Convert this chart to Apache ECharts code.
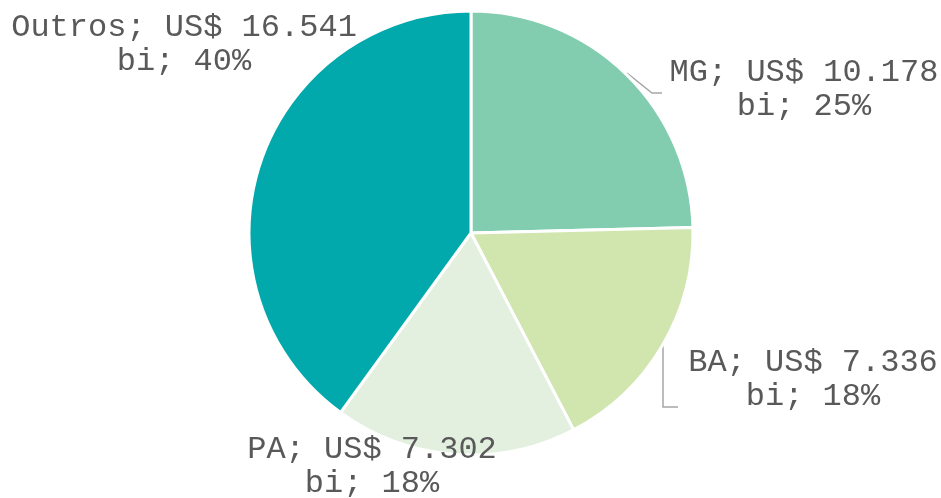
<!DOCTYPE html>
<html>
<head>
<meta charset="utf-8">
<script src="https://cdn.jsdelivr.net/npm/echarts@6/dist/echarts.min.js"></script>
<style>
  html, body { margin: 0; padding: 0; background: #fff; }
  #chart { width: 941px; height: 498px; }
</style>
</head>
<body>
<div id="chart"></div>
<script>
// estados e valores (US$ bi)
const states = ['MG', 'BA', 'PA', 'Outros'];
const values = [10.178, 7.336, 7.302, 16.541];
const colors = ['#82cdaf', '#d0e6ae', '#e3f0df', '#02a9ac'];

// posição dos rótulos (centro do texto) e linhas de chamada
const labelPos = [
  [804, 90],
  [813, 380],
  [372, 467],
  [184, 45]
];
const linePts = [
  [[627, 73], [652, 93], [662, 93]],
  [[663, 345], [663, 407], [678, 407]],
  null,
  null
];

const total = values.reduce((a, b) => a + b, 0);

const chart = echarts.init(document.getElementById('chart'));

chart.setOption({
  animation: false,
  series: [{
    type: 'pie',
    center: [471, 233],
    radius: 222,
    startAngle: 90,
    clockwise: true,
    itemStyle: { borderColor: '#fff', borderWidth: 3 },
    label: {
      show: true,
      fontFamily: 'Liberation Mono',
      fontSize: 32,
      lineHeight: 34,
      color: '#595959',
      align: 'center',
      overflow: 'none',
      width: 400,
      formatter: (p) => p.name + '; US$ ' + p.value.toFixed(3) + '\nbi; ' + Math.round(p.value / total * 100) + '%'
    },
    labelLine: {
      lineStyle: { color: '#a6a6a6', width: 1.5 },
      length: 25,
      length2: 10
    },
    labelLayout: (params) => {
      const i = params.dataIndex;
      const out = {
        x: labelPos[i][0],
        y: labelPos[i][1],
        align: 'center',
        verticalAlign: 'middle'
      };
      if (linePts[i]) out.labelLinePoints = linePts[i];
      return out;
    },
    data: states.map((s, i) => ({
      name: s,
      value: values[i],
      itemStyle: { color: colors[i] },
      labelLine: { show: !!linePts[i] }
    }))
  }]
});
</script>
</body>
</html>
